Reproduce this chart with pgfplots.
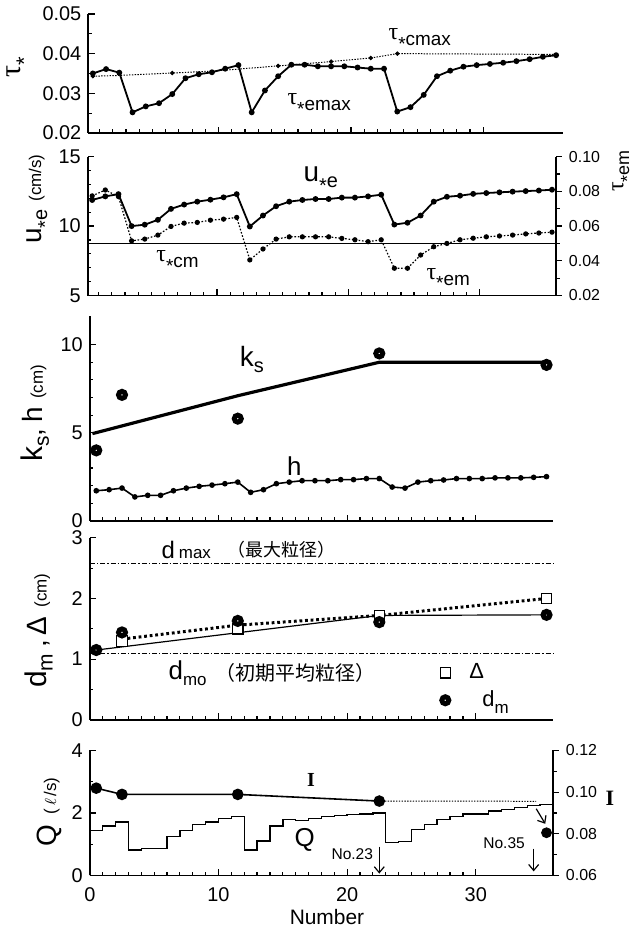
\documentclass[border=0pt]{standalone}
\usepackage{pgfplots}
\pgfplotsset{compat=1.18}
\usepackage{fontspec}
\setmainfont{Liberation Sans}
\newfontfamily\seriffont{Liberation Serif}
\newfontfamily\cjk{Noto Sans CJK JP}
\usetikzlibrary{arrows.meta}
\newcommand{\fs}[1]{\fontsize{#1}{#1}\selectfont}
\newcommand{\tauS}{{\seriffont τ}}
\newcommand{\st}{\raisebox{-0.45ex}{*}}
\newcommand{\lab}[4]{{\fs{#1}#2}\raisebox{-0.3em}{\fs{#3}#4}}

\pgfplotsset{
  twodec/.style={scaled y ticks=false, yticklabel style={/pgf/number format/fixed, /pgf/number format/fixed zerofill, /pgf/number format/precision=2}},
  base/.style={
    scale only axis, clip=false,
    axis x line*=bottom, axis y line*=left,
    xtick pos=left, ytick pos=left,
    axis line style={line width=0.85pt, -},
    tick align=inside,
    tick style={black, line width=0.6pt},
    major tick length=3.2pt, minor tick length=1.8pt,
    xtick={0,10,20,30}, minor x tick num=9,
    tick label style={font=\fs{10}},
    /pgf/number format/assume math mode=true,
    every axis y label/.style={rotate=90, anchor=center},
  },
  rax/.style={
    scale only axis, clip=false,
    axis x line=none, axis y line*=right,
    ytick pos=right,
    axis line style={line width=0.85pt, -},
    tick align=outside,
    tick style={black, line width=0.6pt},
    major tick length=3pt, minor tick length=1.8pt,
    tick label style={font=\fs{8}},
    /pgf/number format/assume math mode=true,
    twodec,
    every axis y label/.style={rotate=90, anchor=center},
  },
  sdot/.style={mark=*, mark size=1pt, mark options={solid}},
  bigo/.style={only marks, mark=o, mark size=1.75pt, mark options={line width=2.5pt, solid}},
}

\begin{document}
\begin{tikzpicture}
\path (0,0) rectangle (318.5pt,-465.5pt);

% ---------------- Panel 1 ----------------
\begin{axis}[base, at={(42.75pt,-66.75pt)}, anchor=south west,
  width=238.15pt, height=59.75pt,
  xmin=0.16, xmax=36, ymin=0.02, ymax=0.05,
  ytick={0.02,0.03,0.04,0.05}, minor y tick num=1, xticklabels={},
  twodec,
  ylabel={\lab{15}{\tauS}{11}{\st}},
  ylabel style={at={(axis description cs:-0.146,0.556)}}]
\addplot[black, line width=0.5pt, dash pattern=on 0.7pt off 0.7pt] coordinates {
(0.5,0.0343) (2.5,0.0345) (6.5,0.0351) (9.5,0.0356) (11.5,0.0361) (14.5,0.0369)
(18.5,0.0380) (21.5,0.0389) (23.5,0.0400) (35.5,0.0398)};
\addplot[black, only marks, mark=*, mark size=0.9pt] coordinates {
(0.5,0.0343) (6.5,0.0351) (14.5,0.0369) (18.5,0.0380) (21.5,0.0389) (23.5,0.0400)};
\addplot[black, line width=0.9pt, sdot] coordinates {
(0.5,0.0350) (1.5,0.0361) (2.5,0.0352) (3.5,0.0252) (4.5,0.0267) (5.5,0.0275)
(6.5,0.0298) (7.5,0.0338) (8.5,0.0348) (9.5,0.0353) (10.5,0.0362) (11.5,0.0371)
(12.5,0.0252) (13.5,0.0307) (14.5,0.0343) (15.5,0.0372) (16.5,0.0372) (17.5,0.0368)
(18.5,0.0368) (19.5,0.0368) (20.5,0.0365) (21.5,0.0362) (22.5,0.0362) (23.5,0.0254)
(24.5,0.0265) (25.5,0.0296) (26.5,0.0343) (27.5,0.0357) (28.5,0.0367) (29.5,0.0371)
(30.5,0.0374) (31.5,0.0377) (32.5,0.0381) (33.5,0.0386) (34.5,0.0392) (35.5,0.0396)};
\node at (axis cs:25.2,0.0435) {\lab{12}{\tauS}{9.5}{\st cmax}};
\node at (axis cs:17.6,0.0272) {\lab{12}{\tauS}{9.5}{\st emax}};
\end{axis}

% ---------------- Panel 2 ----------------
\begin{axis}[base, at={(42.5pt,-148.35pt)}, anchor=south west,
  width=235pt, height=69.7pt,
  xmin=0.17, xmax=35.8, ymin=5, ymax=15,
  ytick={5,10,15}, minor y tick num=4, xticklabels={},
  ylabel={\lab{14}{u}{10}{\st e}\hspace{4pt}{\fs{8.5}(cm/s)}},
  ylabel style={at={(axis description cs:-0.104,0.694)}}]
\addplot[black, line width=0.9pt, sdot] coordinates {
(0.5,11.88) (1.5,12.14) (2.5,12.30) (3.5,10.00) (4.5,10.10) (5.5,10.45)
(6.5,11.24) (7.5,11.55) (8.5,11.76) (9.5,11.90) (10.5,12.07) (11.5,12.30)
(12.5,9.97) (13.5,10.76) (14.5,11.43) (15.5,11.76) (16.5,11.88) (17.5,11.95)
(18.5,11.95) (19.5,12.05) (20.5,12.05) (21.5,12.14) (22.5,12.26) (23.5,10.11)
(24.5,10.24) (25.5,10.76) (26.5,11.76) (27.5,12.11) (28.5,12.19) (29.5,12.32)
(30.5,12.38) (31.5,12.43) (32.5,12.48) (33.5,12.52) (34.5,12.56) (35.5,12.62)};
\node at (axis cs:17.9,13.37) {\lab{14}{u}{10}{\st e}};
\node at (axis cs:7.0,7.45) {\lab{12}{\tauS}{9.5}{\st cm}};
\node at (axis cs:27.6,6.2) {\lab{12}{\tauS}{9.5}{\st em}};
\end{axis}
\begin{axis}[rax, at={(42.5pt,-148.35pt)}, anchor=south west,
  width=235pt, height=69.7pt,
  xmin=0.17, xmax=35.8, ymin=0.02, ymax=0.10,
  ytick={0.02,0.04,0.06,0.08,0.10}, minor y tick num=1,
  ylabel={\lab{12}{\tauS}{9}{\st em}},
  ylabel style={at={(axis description cs:1.143,0.895)}}]
\addplot[black, line width=0.8pt] coordinates {(0.17,0.05) (35.8,0.05)};
\addplot[black, line width=0.6pt, dash pattern=on 0.8pt off 0.9pt, sdot] coordinates {
(0.5,0.0774) (1.5,0.0808) (2.5,0.0770) (3.5,0.0515) (4.5,0.0525) (5.5,0.0548)
(6.5,0.0598) (7.5,0.0617) (8.5,0.0621) (9.5,0.0634) (10.5,0.0640) (11.5,0.0650)
(12.5,0.0405) (13.5,0.0468) (14.5,0.0525) (15.5,0.0538) (16.5,0.0538) (17.5,0.0538)
(18.5,0.0538) (19.5,0.0529) (20.5,0.0521) (21.5,0.0510) (22.5,0.0521) (23.5,0.0357)
(24.5,0.0357) (25.5,0.0433) (26.5,0.0481) (27.5,0.0500) (28.5,0.0521) (29.5,0.0530)
(30.5,0.0538) (31.5,0.0543) (32.5,0.0548) (33.5,0.0555) (34.5,0.0560) (35.5,0.0565)};
\end{axis}

% ---------------- Panel 3 ----------------
\begin{axis}[base, at={(43.5pt,-261.5pt)}, anchor=south west,
  width=232.5pt, height=102.65pt,
  xmin=0, xmax=36, ymin=0, ymax=11.6,
  ytick={0,5,10}, minor y tick num=4, xticklabels={},
  ylabel={\lab{15}{k}{10.5}{s}{\fs{14},\hspace{3pt}h}\hspace{4pt}{\fs{8.5}(cm)}},
  ylabel style={at={(axis description cs:-0.118,0.526)}}]
\addplot[black, line width=1.6pt] coordinates {(0.2,4.95) (11.5,7.1) (22.5,9.0) (35.5,9.0)};
\addplot[black, bigo] coordinates {(0.5,4.0) (2.5,7.15) (11.5,5.8) (22.5,9.5) (35.5,8.85)};
\addplot[black, line width=0.8pt, sdot] coordinates {
(0.5,1.71) (1.5,1.77) (2.5,1.86) (3.5,1.36) (4.5,1.45) (5.5,1.45)
(6.5,1.71) (7.5,1.86) (8.5,1.96) (9.5,2.03) (10.5,2.11) (11.5,2.20)
(12.5,1.62) (13.5,1.77) (14.5,2.11) (15.5,2.20) (16.5,2.28) (17.5,2.28)
(18.5,2.28) (19.5,2.34) (20.5,2.34) (21.5,2.40) (22.5,2.40) (23.5,1.92)
(24.5,1.86) (25.5,2.20) (26.5,2.28) (27.5,2.32) (28.5,2.40) (29.5,2.40)
(30.5,2.40) (31.5,2.44) (32.5,2.44) (33.5,2.44) (34.5,2.47) (35.5,2.51)};
\node at (axis cs:12.6,9.15) {\lab{14}{k}{10}{s}};
\node at (axis cs:15.9,3.1) {\fs{13}h};
\end{axis}

% ---------------- Panel 4 ----------------
\begin{axis}[base, at={(43.5pt,-361.35pt)}, anchor=south west,
  width=232.5pt, height=91.35pt,
  xmin=0, xmax=36, ymin=0, ymax=3,
  ytick={0,1,2,3}, minor y tick num=1, xticklabels={},
  ylabel={\lab{15}{d}{10.5}{m}{\fs{14}\hspace{3pt},\hspace{2pt}Δ}\hspace{5pt}{\fs{8.5}(cm)}},
  ylabel style={at={(axis description cs:-0.11,0.49)}},
  legend style={at={(axis cs:27.2,0.995)}, anchor=north west, draw=none, fill=none,
    font=\fs{11}, row sep=0.5pt, inner sep=0pt},
  legend cell align=left]
\addplot[black, line width=0.5pt, dash pattern=on 2.6pt off 1pt on 0.6pt off 1pt, forget plot]
  coordinates {(0,2.57) (36,2.57)};
\addplot[black, line width=0.5pt, dash pattern=on 2.6pt off 1pt on 0.6pt off 1pt, forget plot]
  coordinates {(0,1.10) (36,1.10)};
\addplot[black, line width=0.6pt, forget plot] coordinates {(0.5,1.15) (22.5,1.72) (35.5,1.73)};
\addplot[black, line width=1.5pt, dash pattern=on 1.4pt off 1.4pt, forget plot]
  coordinates {(2.5,1.33) (11.5,1.56) (22.5,1.72) (35.5,2.0)};
\addplot[black, only marks, mark=square*, mark size=2.6pt,
  mark options={fill=white, draw=black, line width=0.6pt}, forget plot]
  coordinates {(2.5,1.30) (11.5,1.50) (22.5,1.72) (35.5,2.0)};
\addplot[black, bigo, forget plot] coordinates {(0.5,1.15) (2.5,1.44) (11.5,1.63) (22.5,1.61) (35.5,1.73)};
\addlegendimage{only marks, mark=square*, mark size=2.6pt, mark options={fill=white, draw=black, line width=0.6pt}}
\addlegendentry{\hspace{7.5pt}Δ}
\addlegendimage{black, bigo}
\addlegendentry{\hspace{14pt}d\raisebox{-0.3em}{\fs{8.5}m}}
\node at (axis cs:7.5,2.80) {{\fs{12}d}\hspace{2pt}{\fs{8.5}max}};
\node at (axis cs:14.9,2.80) {\cjk\fs{9}（最大粒径）};
\node at (axis cs:7.6,0.76) {\lab{13}{d}{8.5}{mo}};
\node at (axis cs:16.0,0.78) {\cjk\fs{10}（初期平均粒径）};
\end{axis}

% ---------------- Panel 5 ----------------
\begin{axis}[base, at={(43.5pt,-439.5pt)}, anchor=south west,
  width=232.5pt, height=62.75pt,
  xmin=0, xmax=36, ymin=0, ymax=4,
  ytick={0,2,4}, minor y tick num=1,
  xticklabel style={font=\fs{10}, yshift=-2.5pt},
  xlabel={Number}, xlabel style={at={(axis description cs:0.512,-0.33)}, anchor=center, font=\fs{10.5}},
  ylabel={{\fs{14}Q}\hspace{5pt}{\fs{8.5}(\,$\ell$\,/s)}},
  ylabel style={at={(axis description cs:-0.088,0.51)}}]
\addplot[black, line width=0.7pt, const plot] coordinates {
(0,1.43) (1,1.58) (2,1.71) (3,0.81) (4,0.87) (5,0.87) (6,1.24) (7,1.43) (8,1.64)
(9,1.71) (10,1.82) (11,1.88) (12,0.81) (13,1.10) (14,1.58) (15,1.80) (16,1.75)
(17,1.83) (18,1.88) (19,1.92) (20,1.95) (21,1.97) (22,2.00) (23,1.05) (24,1.08)
(25,1.47) (26,1.64) (27,1.80) (28,1.89) (29,1.97) (30,1.97) (31,2.06) (32,2.12)
(33,2.17) (34,2.24) (35,2.27) (36,2.27)};
\node at (axis cs:16.7,1.15) {\fs{13}Q};
\node at (axis cs:17.2,3.06) {\seriffont\bfseries\fs{10}I};
\node at (axis cs:20.4,0.67) {\fs{7.8}No.23};
\node at (axis cs:32.2,1.02) {\fs{7.8}No.35};
\draw[black, line width=0.6pt, -{Straight Barb[length=3pt,width=5pt]}] (axis cs:22.5,0.92) -- (axis cs:22.5,0.06);
\draw[black, line width=0.6pt, -{Straight Barb[length=3pt,width=5pt]}] (axis cs:34.5,0.86) -- (axis cs:34.5,0.13);
\end{axis}
\begin{axis}[rax, at={(43.5pt,-439.5pt)}, anchor=south west,
  width=232.5pt, height=62.75pt,
  xmin=0, xmax=36, ymin=0.06, ymax=0.12,
  ytick={0.06,0.08,0.10,0.12}, minor y tick num=1,
  ylabel={\seriffont\bfseries\fs{11}I}, ylabel style={rotate=-90, at={(axis description cs:1.123,0.614)}}]
\addplot[black, line width=0.8pt, mark=*, mark size=2.5pt] coordinates {
(0.5,0.1019) (2.5,0.0989) (11.5,0.0989) (22.5,0.0957)};
\addplot[black, line width=0.5pt, dash pattern=on 0.7pt off 0.7pt] coordinates {(22.5,0.0957) (34.7,0.0956)};
\addplot[black, only marks, mark=*, mark size=2.5pt] coordinates {(35.5,0.0805)};
\draw[black, line width=0.6pt, -{Straight Barb[length=3pt,width=5pt]}] (axis cs:34.7,0.0920) -- (axis cs:35.4,0.0848);
\end{axis}
\end{tikzpicture}
\end{document}
